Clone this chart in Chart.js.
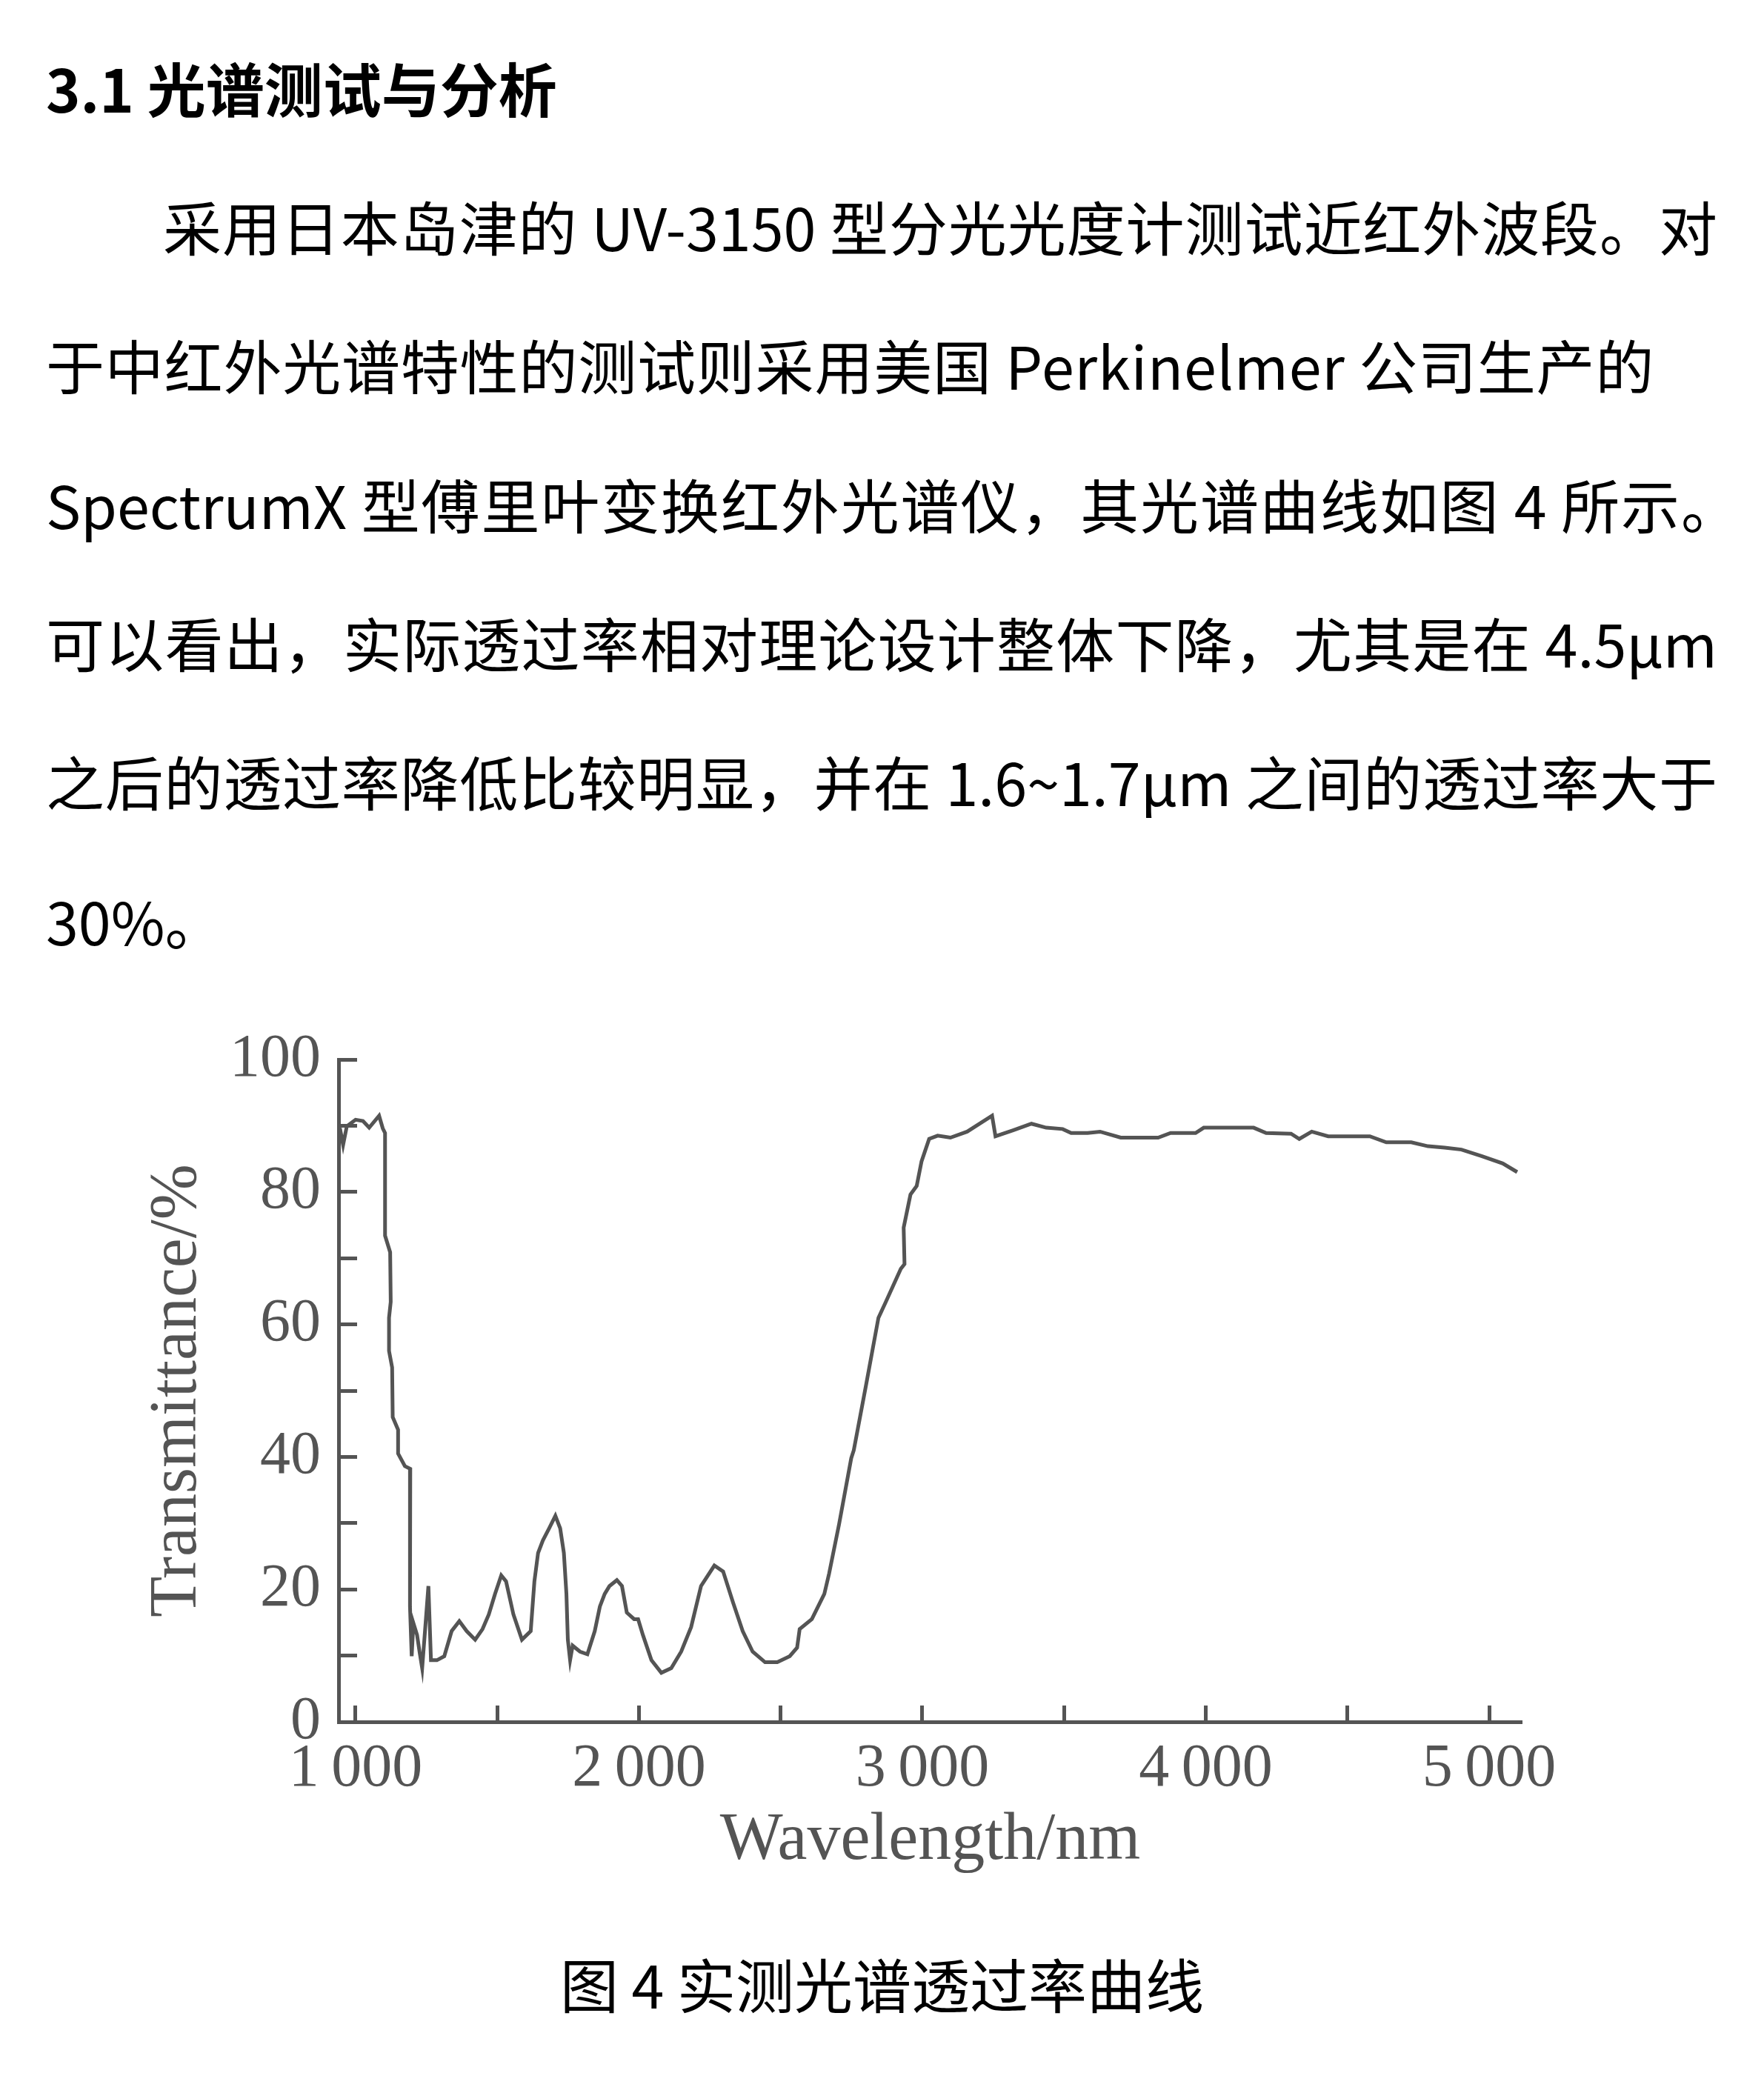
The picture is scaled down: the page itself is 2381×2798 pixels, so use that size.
<!DOCTYPE html>
<html lang="zh-CN">
<head>
<meta charset="utf-8">
<title>图 4 实测光谱透过率曲线</title>
<script src="https://cdn.jsdelivr.net/npm/chart.js@4.4.1/dist/chart.umd.min.js"></script>
<style>
  html, body { margin: 0; padding: 0; background: #fff; }
  body {
    width: 2381px; height: 2798px; position: relative; overflow: hidden;
    font-family: "Noto Sans CJK SC", "Noto Sans", sans-serif; color: #000;
  }
  .txt { position: absolute; left: 62px; font-size: 79px; line-height: 1; white-space: nowrap; }
  .full { width: 2256px; text-align: justify; text-align-last: justify; }
  h3.txt { margin: 0; font-weight: 700; top: 78px; }
  .indent { text-indent: 2em; }
  #caption { position: absolute; left: 0; width: 2381px; top: 2637px; text-align: center; font-size: 79px; line-height: 1; }
  #chart { position: absolute; left: 0; top: 1340px; }
</style>
</head>
<body>

<h3 class="txt">3.1 光谱测试与分析</h3>
<div class="txt full indent" style="top:265px">采用日本岛津的 UV-3150 型分光光度计测试近红外波段。对</div>
<div class="txt" style="top:452px; letter-spacing:0.8px">于中红外光谱特性的测试则采用美国 Perkinelmer 公司生产的</div>
<div class="txt full" style="top:640px; width:2286px">SpectrumX 型傅里叶变换红外光谱仪，其光谱曲线如图 4 所示。</div>
<div class="txt full" style="top:827px">可以看出，实际透过率相对理论设计整体下降，尤其是在 4.5μm</div>
<div class="txt full" style="top:1014px">之后的透过率降低比较明显，并在 1.6~1.7μm 之间的透过率大于</div>
<div class="txt" style="top:1202px">30%。</div>

<canvas id="chart" width="2381" height="1240"></canvas>

<div id="caption">图 4 实测光谱透过率曲线</div>

<script>
const wavelength = [
  944, 948, 956, 969, 1000, 1026, 1048, 1083, 1096, 1104,
  1104, 1122, 1124, 1118, 1118, 1129, 1131, 1150, 1150, 1174,
  1193, 1193, 1191, 1198, 1204, 1217, 1226, 1235, 1257, 1266,
  1287, 1313, 1339, 1366, 1392, 1422, 1448, 1470, 1492, 1514,
  1531, 1557, 1587, 1618, 1631, 1644, 1661, 1683, 1705, 1722,
  1735, 1744, 1749, 1757, 1766, 1792, 1818, 1844, 1862, 1879,
  1896, 1922, 1940, 1957, 1983, 1997, 2014, 2044, 2079, 2114,
  2149, 2184, 2219, 2266, 2297, 2332, 2366, 2401, 2445, 2488,
  2532, 2558, 2567, 2610, 2654, 2671, 2706, 2749, 2758, 2802,
  2845, 2871, 2924, 2937, 2934, 2958, 2980, 2997, 3024, 3054,
  3099, 3158, 3246, 3258, 3320, 3385, 3437, 3495, 3525, 3583,
  3627, 3700, 3832, 3876, 3964, 3993, 4169, 4213, 4301, 4330,
  4374, 4432, 4579, 4637, 4725, 4784, 4843, 4902, 4975, 5048,
  5099
];
const transmittance = [
  88.5, 88.9, 87.1, 89.9, 90.9, 90.7, 89.7, 91.5, 89.6, 88.9,
  73.4, 70.9, 63.4, 61, 56, 53.5, 46, 44.1, 40.5, 38.6,
  38.2, 22.4, 17.4, 9.9, 14.9, 13.1, 10.5, 8.1, 20.5, 9.3,
  9.3, 9.9, 13.7, 15.2, 13.7, 12.4, 14, 16.2, 19.3, 22.1,
  21.2, 16.2, 12.4, 13.7, 21.2, 25.5, 27.4, 29.2, 31.1, 29.2,
  25.5, 19.3, 12.4, 9.3, 11.5, 10.6, 10.2, 13.7, 17.4, 19.3,
  20.5, 21.4, 20.5, 16.5, 15.5, 15.5, 13.1, 9.3, 7.4, 8.1,
  10.6, 14.3, 20.5, 23.6, 22.7, 18, 13.7, 10.6, 9, 9,
  9.9, 11.2, 14, 15.5, 19.3, 22.4, 29.8, 39.8, 41, 51,
  61, 63.4, 68.4, 69.1, 74.6, 79.6, 80.9, 84.6, 88, 88.5,
  88.2, 89.1, 91.5, 88.4, 89.3, 90.3, 89.7, 89.5, 88.9, 88.9,
  89.1, 88.2, 88.2, 88.9, 88.9, 89.7, 89.7, 88.9, 88.8, 88,
  89.1, 88.4, 88.4, 87.5, 87.5, 86.9, 86.7, 86.4, 85.4, 84.3,
  83
];

const xTickValues = [1000, 1500, 2000, 2500, 3000, 3500, 4000, 4500, 5000];
const xTickLabels = ["1\u2009000", "", "2\u2009000", "", "3\u2009000", "", "4\u2009000", "", "5\u2009000"];
const yTickValues = [0, 10, 20, 30, 40, 50, 60, 70, 80, 90, 100];
const yTickLabels = ["0", "", "20", "", "40", "", "60", "", "80", "", "100"];

const ink = "#545454";
const serif = "'Liberation Serif', 'DejaVu Serif', serif";

const points = wavelength.map((w, i) => ({ x: w, y: transmittance[i] }));

new Chart(document.getElementById("chart"), {
  type: "line",
  data: {
    datasets: [{
      data: points,
      borderColor: ink,
      borderWidth: 5,
      pointRadius: 0,
      tension: 0,
      fill: false
    }]
  },
  options: {
    responsive: false,
    animation: false,
    layout: { padding: { top: 82, right: 327, bottom: 0, left: 0 } },
    plugins: { legend: { display: false }, tooltip: { enabled: false } },
    scales: {
      x: {
        type: "linear",
        min: 940,
        max: 5115,
        afterBuildTicks: s => { s.ticks = xTickValues.map(v => ({ value: v })); },
        afterFit: s => { s.height = 256; },
        grid: { drawOnChartArea: false, tickLength: -22, tickWidth: 5, tickColor: ink },
        border: { display: true, color: ink, width: 5 },
        ticks: {
          autoSkip: false, maxRotation: 0, padding: 45, color: ink,
          font: { family: serif, size: 82, lineHeight: 1 },
          callback: (v, i) => xTickLabels[i]
        },
        title: {
          display: true, text: "Wavelength/nm", color: ink,
          font: { family: serif, size: 90, lineHeight: 1 },
          padding: { top: 0, bottom: 50 }
        }
      },
      y: {
        min: 0,
        max: 100,
        afterBuildTicks: s => { s.ticks = yTickValues.map(v => ({ value: v })); },
        afterFit: s => { s.width = 457; },
        grid: { drawOnChartArea: false, tickLength: -25, tickWidth: 5, tickColor: ink },
        border: { display: true, color: ink, width: 5 },
        ticks: {
          autoSkip: false, padding: 49, color: ink,
          font: { family: serif, size: 82, lineHeight: 1 },
          callback: (v, i) => yTickLabels[i]
        },
        title: {
          display: true, text: "Transmittance/%", color: ink,
          font: { family: serif, size: 90, lineHeight: 1 },
          padding: { top: 195, bottom: 0 }
        }
      }
    }
  }
});
</script>
</body>
</html>
